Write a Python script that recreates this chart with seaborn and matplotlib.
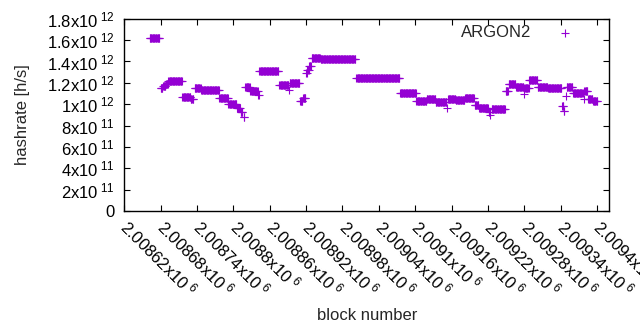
import numpy as np
import pandas as pd
import seaborn as sns
import matplotlib
matplotlib.use('Agg')
import matplotlib.pyplot as plt

# runs of consecutive blocks sharing the same hashrate estimate (values in 1e12 h/s)
seg_start = [2008662, 2008680, 2008684, 2008689, 2008693, 2008716, 2008730, 2008736, 2008747, 2008777,
             2008792, 2008806, 2008812, 2008817, 2008820, 2008828, 2008841, 2008843, 2008876, 2008892,
             2008893, 2008910, 2008915, 2008920, 2008922, 2008925, 2008929, 2008944, 2009003, 2009075,
             2009102, 2009119, 2009134, 2009152, 2009154, 2009167, 2009182, 2009198, 2009205, 2009221,
             2009224, 2009226, 2009249, 2009254, 2009266, 2009279, 2009280, 2009288, 2009302, 2009319,
             2009342, 2009345, 2009349, 2009350, 2009360, 2009378, 2009379, 2009385, 2009393]
seg_end = [2008678, 2008683, 2008688, 2008692, 2008715, 2008729, 2008734, 2008746, 2008776, 2008791,
           2008805, 2008811, 2008815, 2008818, 2008827, 2008840, 2008842, 2008874, 2008891, 2008892,
           2008909, 2008914, 2008919, 2008921, 2008924, 2008928, 2008943, 2009001, 2009074, 2009101,
           2009118, 2009133, 2009151, 2009152, 2009166, 2009181, 2009197, 2009204, 2009220, 2009223,
           2009224, 2009248, 2009253, 2009265, 2009278, 2009279, 2009287, 2009301, 2009318, 2009341,
           2009344, 2009346, 2009349, 2009359, 2009376, 2009378, 2009384, 2009392, 2009400]
seg_value = [1.62, 1.15, 1.17, 1.19, 1.215, 1.07, 1.045, 1.155, 1.13, 1.055,
             1.0, 0.96, 0.93, 0.88, 1.16, 1.125, 1.09, 1.31, 1.18, 1.135,
             1.2, 1.03, 1.055, 1.29, 1.32, 1.355, 1.435, 1.42, 1.245, 1.103,
             1.03, 1.052, 1.018, 0.965, 1.05, 1.035, 1.057, 0.99, 0.963, 0.93,
             0.9, 0.955, 1.12, 1.19, 1.163, 1.10, 1.15, 1.228, 1.16, 1.15,
             0.98, 0.94, 1.08, 1.165, 1.106, 1.047, 1.12, 1.05, 1.027]

x_ticks = [2008620, 2008680, 2008740, 2008800, 2008860, 2008920, 2008980,
           2009040, 2009100, 2009160, 2009220, 2009280, 2009340, 2009400]
x_labels = ['2.00862', '2.00868', '2.00874', '2.0088', '2.00886', '2.00892', '2.00898',
            '2.00904', '2.0091', '2.00916', '2.00922', '2.00928', '2.00934', '2.0094']
y_ticks = [0, 0.2e12, 0.4e12, 0.6e12, 0.8e12, 1.0e12, 1.2e12, 1.4e12, 1.6e12, 1.8e12]
y_labels = ['0', '2x10', '4x10', '6x10', '8x10', '1x10', '1.2x10', '1.4x10', '1.6x10', '1.8x10']
y_exps = ['', '11', '11', '11', '11', '12', '12', '12', '12', '12']

blocks = []
rates = []
for a, b, v in zip(seg_start, seg_end, seg_value):
    for n in range(a, b + 1):
        blocks.append(n)
        rates.append(v * 1e12)
df = pd.DataFrame({'block': blocks, 'hashrate': rates})

sns.set_style('ticks')
plt.rcParams['font.family'] = ['Liberation Sans', 'DejaVu Sans']
plt.rcParams['mathtext.fontset'] = 'custom'
plt.rcParams['mathtext.rm'] = 'Liberation Sans'
plt.rcParams['mathtext.it'] = 'Liberation Sans'

fig = plt.figure(figsize=(6.4, 3.3), dpi=100)
ax = fig.add_axes([0.194, 0.361, 0.758, 0.582])

sns.scatterplot(data=df, x='block', y='hashrate', marker='+', color='#9400D3',
                s=26, linewidth=0.8, ax=ax, label='ARGON2')

ax.set_xlim(2008620, 2009420)
ax.set_ylim(0, 1.8e12)

ax.set_yticks(y_ticks)
ax.set_yticklabels([lab if not e else lab + r'$^{\,\,' + e + '}$' for lab, e in zip(y_labels, y_exps)],
                   fontsize=12)
ax.set_xticks(x_ticks)
ax.set_xticklabels([lab + r'x10$^{\,\,6}$' for lab in x_labels], fontsize=12,
                   rotation=-45, ha='left', va='center', rotation_mode='anchor')

ax.tick_params(direction='in', length=4, width=0.8, top=True, right=True, colors='black')
ax.tick_params(axis='y', pad=7)
ax.tick_params(axis='x', pad=9)
for sp in ax.spines.values():
    sp.set_visible(True)
    sp.set_linewidth(1.0)
    sp.set_color('black')

ax.set_xlabel('block number', fontsize=12, labelpad=6)
ax.set_ylabel('hashrate [h/s]', fontsize=12, labelpad=12)

leg = ax.legend(loc='upper right', bbox_to_anchor=(0.957, 1.0), borderaxespad=0,
                frameon=False, markerfirst=False, fontsize=12, handletextpad=1.0)

fig.savefig('out.png', dpi=100)
